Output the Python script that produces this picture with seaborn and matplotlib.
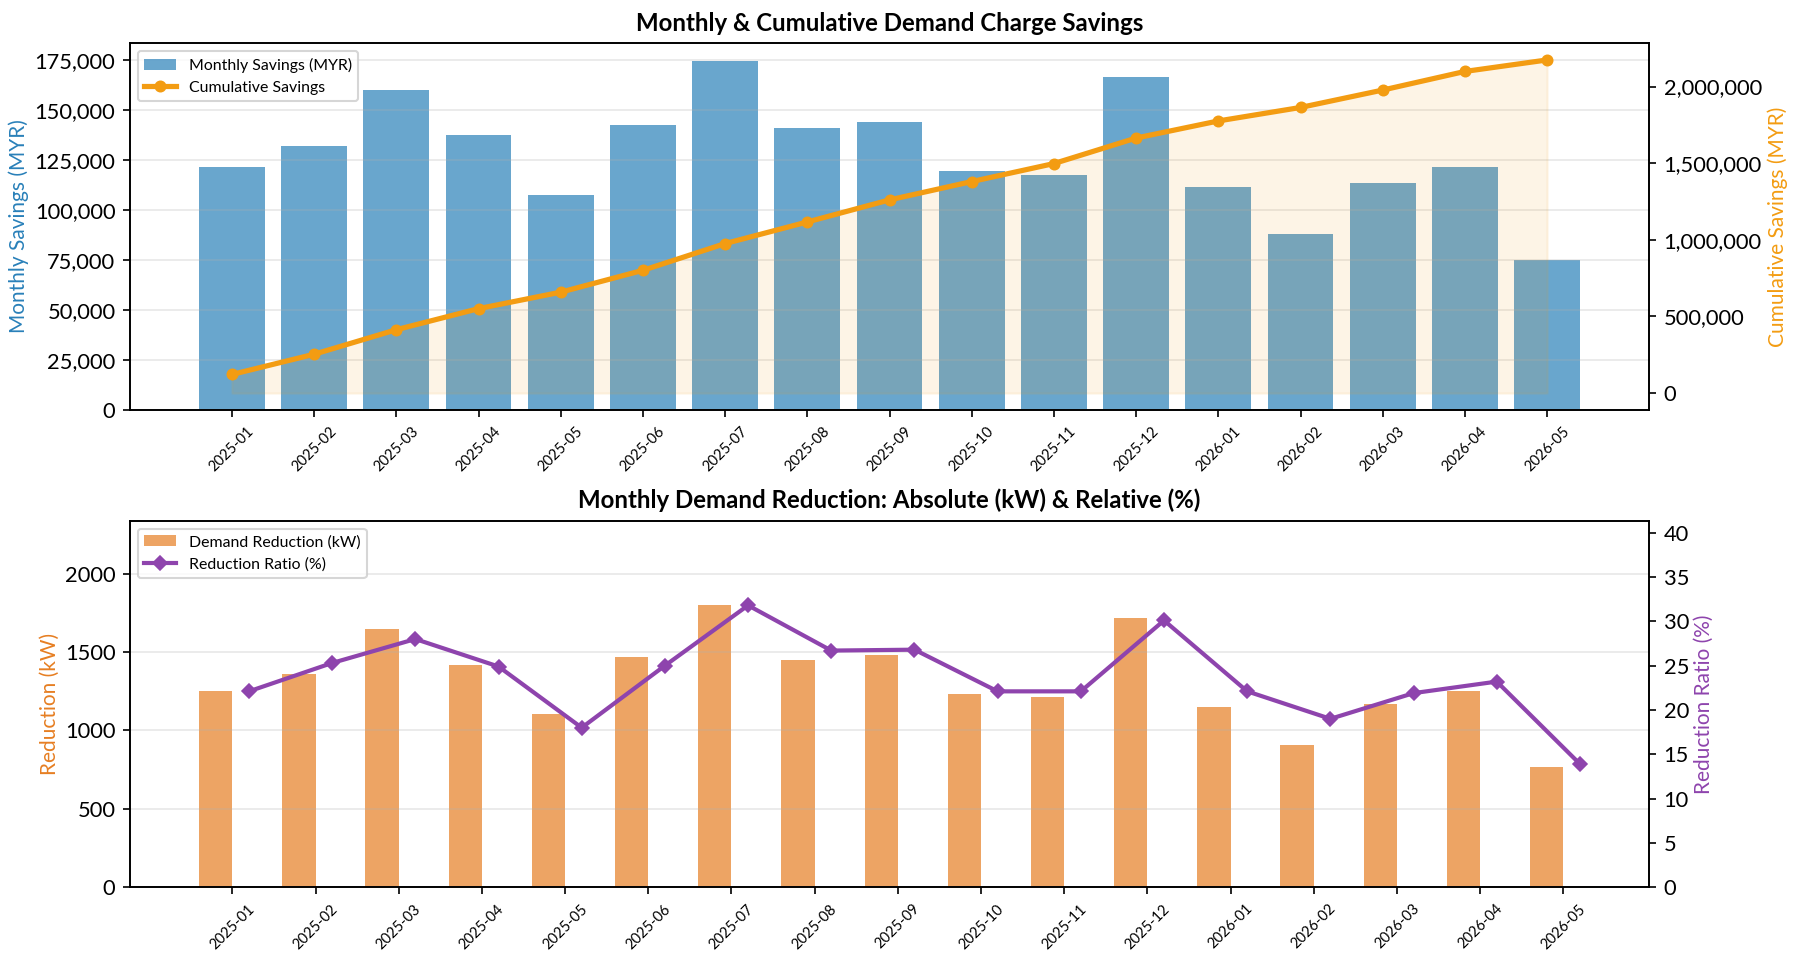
import numpy as np
import matplotlib
matplotlib.use("Agg")
import matplotlib.pyplot as plt
from matplotlib.ticker import FuncFormatter, MultipleLocator
import seaborn as sns

months = ["2025-01", "2025-02", "2025-03", "2025-04", "2025-05", "2025-06",
          "2025-07", "2025-08", "2025-09", "2025-10", "2025-11", "2025-12",
          "2026-01", "2026-02", "2026-03", "2026-04", "2026-05"]
monthly_savings = [121500, 132000, 160000, 137500, 107500, 142500, 174500, 141000,
                   144000, 119500, 117500, 166500, 111500, 88000, 113500, 121500, 75000]
demand_reduction_kw = [1253, 1362, 1649, 1419, 1106, 1470, 1798, 1452,
                       1484, 1233, 1213, 1715, 1150, 908, 1170, 1250, 770]
reduction_ratio = [22.1, 25.3, 28.0, 24.9, 18.0, 25.0, 31.8, 26.7,
                   26.8, 22.1, 22.1, 30.1, 22.1, 19.0, 21.9, 23.2, 13.9]

cumulative_savings = np.cumsum(monthly_savings)

plt.rcParams["font.family"] = ["Lato", "DejaVu Sans"]

BLUE = "#2980b9"
ORANGE = "#f39c12"
DARK_ORANGE = "#e67e22"
PURPLE = "#8e44ad"

fmt_thousands = FuncFormatter(lambda v, p: f"{v:,.0f}")

fig, (ax1, ax3) = plt.subplots(2, 1, figsize=(1793 / 150, 962 / 150), dpi=150)
fig.subplots_adjust(left=0.0725, right=0.9197, top=0.955, bottom=0.0777, hspace=0.303)

x = np.arange(len(months))

# top: monthly bars + cumulative line
ax1.bar(x, monthly_savings, width=0.8, color=BLUE, alpha=0.7, label="Monthly Savings (MYR)")
ax1.set_ylabel("Monthly Savings (MYR)", color=BLUE, fontsize=10, labelpad=2.5)
ax1.yaxis.set_major_formatter(fmt_thousands)
ax1.grid(axis="y", alpha=0.3)
ax1.set_title("Monthly & Cumulative Demand Charge Savings", fontsize=11.5, fontweight="bold")

ax2 = ax1.twinx()
sns.lineplot(x=x, y=cumulative_savings, ax=ax2, color=ORANGE, linewidth=2.5, marker="o",
             markersize=5, markeredgecolor=ORANGE, label="Cumulative Savings")
ax2.fill_between(x, cumulative_savings, alpha=0.1, color=ORANGE)
ax2.set_ylabel("Cumulative Savings (MYR)", color=ORANGE, fontsize=10, labelpad=2.5)
ax2.yaxis.set_major_formatter(fmt_thousands)
if ax2.get_legend():
    ax2.get_legend().remove()

h1, l1 = ax1.get_legend_handles_labels()
h2, l2 = ax2.get_legend_handles_labels()
ax1.legend(h1 + h2, l1 + l2, loc="upper left", fontsize=7.6)
ax1.set_xticks(x)
ax1.set_xticklabels(months, rotation=45, fontsize=7)

# bottom: demand reduction bars + ratio line
w = 0.4
ax3.bar(x - w / 2, demand_reduction_kw, width=w, color=DARK_ORANGE, alpha=0.7,
        label="Demand Reduction (kW)")
ax3.set_ylabel("Reduction (kW)", color=DARK_ORANGE, fontsize=10, labelpad=2.5)
ax3.set_ylim(0, max(demand_reduction_kw) * 1.3)
ax3.grid(axis="y", alpha=0.3)
ax3.set_title("Monthly Demand Reduction: Absolute (kW) & Relative (%)", fontsize=11.5,
              fontweight="bold")

ax4 = ax3.twinx()
sns.lineplot(x=x + w / 2, y=reduction_ratio, ax=ax4, color=PURPLE, linewidth=2, marker="D",
             markersize=5, markeredgecolor=PURPLE, label="Reduction Ratio (%)")
ax4.set_ylabel("Reduction Ratio (%)", color=PURPLE, fontsize=10, labelpad=2.5)
ax4.set_ylim(0, max(reduction_ratio) * 1.3)
ax4.yaxis.set_major_locator(MultipleLocator(5))
if ax4.get_legend():
    ax4.get_legend().remove()

h3, l3 = ax3.get_legend_handles_labels()
h4, l4 = ax4.get_legend_handles_labels()
ax3.legend(h3 + h4, l3 + l4, loc="upper left", fontsize=7.6)
ax3.set_xticks(x)
ax3.set_xticklabels(months, rotation=45, fontsize=7)

for ax in (ax1, ax2, ax3, ax4):
    ax.tick_params(axis="y", labelsize=10.5)

plt.savefig("out.png", dpi=150)
